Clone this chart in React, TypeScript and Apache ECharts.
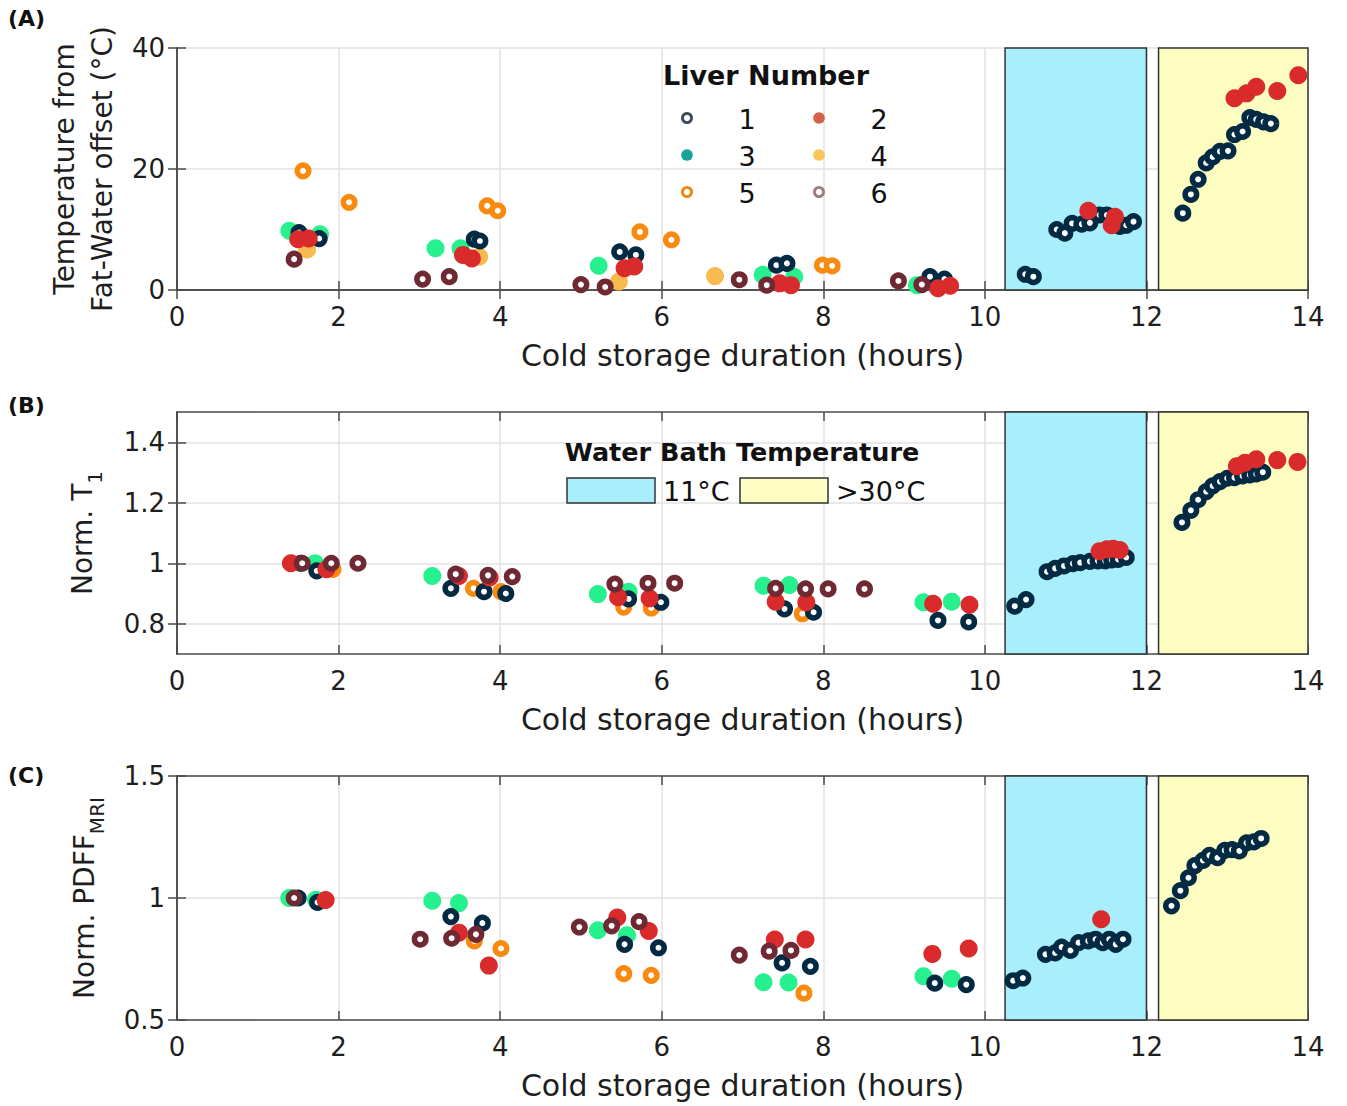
import React, { useEffect, useRef } from 'react';
import * as echarts from 'echarts';

const FONT = 'DejaVu Sans';

// ---- axes ----
const X_MIN = 0;
const X_MAX = 14;
const X_INTERVAL = 2;
const X_TITLE = 'Cold storage duration (hours)';

const A_Y = { min: 0, max: 40, interval: 20 };
const B_Y = { min: 0.7, max: 1.5 };
const B_Y_TICKS = [0.8, 1, 1.2, 1.4];
const C_Y = { min: 0.5, max: 1.5, interval: 0.5 };

// water bath periods (hours)
const BATH_11C = [10.25, 12.0];
const BATH_30C = [12.15, 14];

const LIVER_NAMES = ['1', '2', '3', '4', '5', '6'];
const LIVER_COLORS = ['#022a43', '#d92b2b', '#27f08f', '#f9ba4f', '#f88a10', '#6f2933'];
const LIVER_RING = [true, false, false, false, true, true];
const LEGEND_COLORS = ['#3e4a5a', '#d5614b', '#18a39a', '#f8c65c', '#f0860f', '#9c7c7c'];
const DRAW_ORDER = [2, 3, 4, 0, 1, 5];

// ---- Panel A: temperature from fat-water offset (°C) ----
const A_L1 = [[1.51, 9.5], [1.76, 8.5], [3.68, 8.4], [3.75, 8.1], [5.48, 6.3], [5.68, 5.8], [7.42, 4.1], [7.55, 4.4], [9.32, 2.2], [9.5, 1.8], [10.5, 2.6], [10.6, 2.2], [10.89, 10.0], [10.99, 9.4], [11.08, 11.0], [11.2, 10.9], [11.3, 11.1], [11.42, 12.4], [11.51, 12.4], [11.67, 10.5], [11.75, 10.7], [11.84, 11.3], [12.45, 12.7], [12.55, 15.8], [12.64, 18.3], [12.74, 21.0], [12.82, 22.0], [12.91, 22.9], [13.01, 23.0], [13.09, 25.7], [13.19, 26.2], [13.28, 28.5], [13.36, 28.2], [13.45, 27.8], [13.54, 27.5]];
const A_L2 = [[1.5, 8.4], [1.63, 8.5], [3.54, 5.8], [3.65, 5.2], [5.54, 3.6], [5.66, 3.9], [7.46, 1.1], [7.6, 0.8], [9.42, 0.3], [9.57, 0.7], [11.28, 13.1], [11.61, 12.1], [11.57, 10.7], [13.09, 31.7], [13.24, 32.5], [13.36, 33.6], [13.62, 32.9], [13.88, 35.5]];
const A_L3 = [[1.39, 9.8], [1.77, 9.2], [3.2, 6.9], [3.51, 6.9], [5.22, 4.0], [7.25, 2.5], [7.64, 2.2], [9.16, 0.8]];
const A_L4 = [[1.61, 6.7], [3.74, 5.5], [5.47, 1.4], [6.66, 2.3]];
const A_L5 = [[1.56, 19.7], [2.13, 14.5], [3.84, 13.9], [3.97, 13.1], [5.73, 9.6], [6.12, 8.3], [7.99, 4.1], [8.11, 4.0]];
const A_L6 = [[1.45, 5.1], [3.04, 1.8], [3.37, 2.2], [5.0, 0.9], [5.3, 0.5], [6.96, 1.7], [7.3, 0.8], [8.93, 1.5], [9.22, 0.9]];

// ---- Panel B: normalised T1 ----
const B_L1 = [[1.53, 1.0], [1.73, 0.975], [3.39, 0.917], [3.8, 0.906], [4.07, 0.9], [5.59, 0.882], [5.99, 0.871], [7.52, 0.849], [7.88, 0.838], [9.42, 0.811], [9.8, 0.806], [10.37, 0.858], [10.51, 0.88], [10.77, 0.972], [10.87, 0.983], [10.98, 0.991], [11.09, 0.999], [11.18, 1.002], [11.3, 1.006], [11.4, 1.008], [11.49, 1.008], [11.57, 1.011], [11.65, 1.013], [11.75, 1.019], [12.44, 1.135], [12.55, 1.175], [12.64, 1.21], [12.74, 1.237], [12.82, 1.256], [12.91, 1.27], [13.0, 1.281], [13.09, 1.283], [13.19, 1.289], [13.28, 1.292], [13.36, 1.295], [13.44, 1.301]];
const B_L2 = [[1.41, 1.0], [1.85, 0.98], [3.49, 0.958], [3.87, 0.953], [5.46, 0.888], [5.85, 0.884], [7.41, 0.873], [7.79, 0.871], [9.36, 0.866], [9.81, 0.863], [11.42, 1.04], [11.51, 1.046], [11.59, 1.048], [11.67, 1.044], [13.12, 1.321], [13.22, 1.332], [13.36, 1.344], [13.62, 1.341], [13.87, 1.335]];
const B_L3 = [[1.71, 1.0], [3.16, 0.958], [5.21, 0.898], [5.59, 0.906], [7.26, 0.926], [7.58, 0.928], [9.24, 0.871], [9.59, 0.873]];
const B_L4: number[][] = [];
const B_L5 = [[1.93, 0.98], [3.67, 0.917], [4.01, 0.906], [5.53, 0.855], [5.87, 0.852], [7.74, 0.833]];
const B_L6 = [[1.55, 1.0], [1.91, 1.0], [2.24, 1.0], [3.45, 0.964], [3.85, 0.96], [4.15, 0.956], [5.42, 0.931], [5.83, 0.934], [6.16, 0.934], [7.41, 0.917], [7.78, 0.915], [8.06, 0.915], [8.51, 0.915]];

// ---- Panel C: normalised PDFF (MRI) ----
const C_L1 = [[1.5, 1.0], [1.74, 0.982], [3.39, 0.924], [3.78, 0.897], [5.54, 0.81], [5.96, 0.796], [7.49, 0.734], [7.84, 0.72], [9.38, 0.651], [9.77, 0.645], [10.35, 0.661], [10.47, 0.672], [10.75, 0.769], [10.87, 0.775], [10.95, 0.799], [11.06, 0.785], [11.16, 0.817], [11.28, 0.824], [11.37, 0.831], [11.46, 0.817], [11.54, 0.831], [11.62, 0.81], [11.71, 0.831], [12.31, 0.968], [12.42, 1.03], [12.52, 1.083], [12.6, 1.133], [12.7, 1.154], [12.78, 1.175], [12.88, 1.165], [12.97, 1.195], [13.06, 1.198], [13.15, 1.193], [13.24, 1.226], [13.33, 1.23], [13.42, 1.244]];
const C_L2 = [[1.84, 0.992], [3.49, 0.858], [3.86, 0.723], [5.45, 0.92], [5.84, 0.865], [7.4, 0.83], [7.78, 0.83], [9.35, 0.771], [9.8, 0.793], [11.44, 0.913]];
const C_L3 = [[1.39, 1.0], [1.72, 0.993], [3.16, 0.989], [3.49, 0.979], [5.21, 0.868], [5.57, 0.847], [7.26, 0.655], [7.57, 0.654], [9.24, 0.679], [9.59, 0.669]];
const C_L4: number[][] = [];
const C_L5 = [[3.68, 0.824], [4.01, 0.793], [5.53, 0.69], [5.87, 0.683], [7.76, 0.61]];
const C_L6 = [[1.45, 1.0], [3.01, 0.831], [3.4, 0.835], [3.7, 0.851], [4.98, 0.881], [5.38, 0.886], [5.72, 0.903], [6.96, 0.766], [7.33, 0.782], [7.6, 0.785]];

const PANEL_DATA = [
  [A_L1, A_L2, A_L3, A_L4, A_L5, A_L6],
  [B_L1, B_L2, B_L3, B_L4, B_L5, B_L6],
  [C_L1, C_L2, C_L3, C_L4, C_L5, C_L6],
];

const CYAN = '#a8effb';
const YELLOW = '#fdfdc2';
const AXIS_COLOR = '#4a4a4a';
const TEXT_COLOR = '#1e1e1e';

const GRIDS = [
  { left: 177, top: 48, width: 1131, height: 242 },
  { left: 177, top: 412, width: 1131, height: 242 },
  { left: 177, top: 776, width: 1131, height: 244 },
];

function buildOption() {
  const axisLine = { show: true, lineStyle: { color: AXIS_COLOR, width: 1.5 } };
  const axisTick = { show: true, inside: true, length: 9, lineStyle: { color: AXIS_COLOR, width: 1.5 } };
  const splitLine = { show: true, lineStyle: { color: '#e2e2e2', width: 1.5 } };
  const labelStyle = { fontFamily: FONT, fontSize: 26, color: TEXT_COLOR };

  const xAxis: any[] = [];
  const yAxis: any[] = [];
  GRIDS.forEach((_, g) => {
    xAxis.push({
      gridIndex: g, type: 'value', min: X_MIN, max: X_MAX, interval: X_INTERVAL, position: 'bottom',
      axisLine, axisTick, splitLine,
      axisLabel: { ...labelStyle, margin: 14 },
      name: X_TITLE, nameLocation: 'middle', nameGap: 50,
      nameTextStyle: { fontFamily: FONT, fontSize: 30, color: TEXT_COLOR },
    });
  });
  GRIDS.forEach((_, g) => {
    xAxis.push({
      gridIndex: g, type: 'value', min: X_MIN, max: X_MAX, interval: X_INTERVAL, position: 'top',
      axisLine, axisTick, splitLine: { show: false }, axisLabel: { show: false },
    });
  });

  const yNames = [
    'Temperature from\nFat-Water offset (°C)',
    '{m|Norm. T}{s|1}',
    '{m|Norm. PDFF}{s|MRI}',
  ];
  const yGaps = [54, 72, 70];
  const rich = {
    m: { fontFamily: FONT, fontSize: 28, color: TEXT_COLOR, verticalAlign: 'top', lineHeight: 36 },
    s: { fontFamily: FONT, fontSize: 20, color: TEXT_COLOR, verticalAlign: 'bottom', lineHeight: 37 },
  };
  const yScales: any[] = [
    { ...A_Y },
    { ...B_Y },
    { ...C_Y },
  ];
  GRIDS.forEach((_, g) => {
    const base: any = { gridIndex: g, type: 'value', ...yScales[g] };
    const lbl: any = { ...labelStyle, margin: 12 };
    const tick: any = { ...axisTick };
    if (g === 1) {
      lbl.customValues = B_Y_TICKS;
      tick.customValues = B_Y_TICKS;
    }
    yAxis.push({
      ...base, position: 'left', axisLine, axisTick: tick, splitLine, axisLabel: lbl,
      name: yNames[g], nameLocation: 'middle', nameGap: yGaps[g],
      nameTextStyle: { fontFamily: FONT, fontSize: 28, color: TEXT_COLOR, lineHeight: 38, rich },
    });
  });
  GRIDS.forEach((_, g) => {
    const tick: any = { ...axisTick };
    if (g === 1) tick.customValues = B_Y_TICKS;
    yAxis.push({
      gridIndex: g, type: 'value', ...yScales[g], position: 'right',
      axisLine, axisTick: tick, splitLine: { show: false }, axisLabel: { show: false },
    });
  });

  const series: any[] = [];
  GRIDS.forEach((_, g) => {
    series.push({
      type: 'scatter', xAxisIndex: g, yAxisIndex: g, data: [], silent: true, z: 1,
      markArea: {
        silent: true,
        data: [
          [{ xAxis: BATH_11C[0], itemStyle: { color: CYAN, borderColor: '#333', borderWidth: 1.5 } }, { xAxis: BATH_11C[1] }],
          [{ xAxis: BATH_30C[0], itemStyle: { color: YELLOW, borderColor: '#333', borderWidth: 1.5 } }, { xAxis: BATH_30C[1] }],
        ],
      },
    });
    DRAW_ORDER.forEach((li, k) => {
      const ring = LIVER_RING[li];
      series.push({
        type: 'scatter', name: 'Liver ' + LIVER_NAMES[li], xAxisIndex: g, yAxisIndex: g,
        data: PANEL_DATA[g][li], symbol: 'circle', symbolSize: ring ? 11.5 : 18, z: 3 + k,
        itemStyle: ring
          ? { color: '#ffffff', borderColor: LIVER_COLORS[li], borderWidth: 5.5, opacity: 1 }
          : { color: LIVER_COLORS[li], opacity: 1 },
      });
    });
  });

  const graphic: any[] = [];
  const panelLabels = [['(A)', 20], ['(B)', 407], ['(C)', 777]];
  panelLabels.forEach(([t, y]) => {
    graphic.push({
      type: 'text', left: 8, top: (y as number) - 13,
      style: { text: t, fontFamily: FONT, fontWeight: 'bold', fontSize: 22, fill: '#111' },
    });
  });
  // Liver legend
  graphic.push({
    type: 'text', x: 766, y: 75, z: 50,
    style: { text: 'Liver Number', fontFamily: FONT, fontWeight: 'bold', fontSize: 27, fill: '#111', align: 'center', verticalAlign: 'middle' },
  });
  LIVER_NAMES.forEach((n, i) => {
    const col = i % 2;
    const row = Math.floor(i / 2);
    const cx = 687 + col * 132;
    const cy = 118 + row * 37;
    const ring = LIVER_RING[i];
    graphic.push({
      type: 'circle', z: 50, shape: { cx, cy, r: ring ? 4.6 : 5.8 },
      style: ring ? { fill: '#fff', stroke: LEGEND_COLORS[i], lineWidth: 2.8 } : { fill: LEGEND_COLORS[i] },
    });
    graphic.push({
      type: 'text', z: 50, x: cx + 60, y: cy + 1,
      style: { text: n, fontFamily: FONT, fontSize: 27, fill: '#111', align: 'center', verticalAlign: 'middle' },
    });
  });
  // Water bath legend
  graphic.push({
    type: 'text', x: 742, y: 452, z: 50,
    style: { text: 'Water Bath Temperature', fontFamily: FONT, fontWeight: 'bold', fontSize: 25.5, fill: '#111', align: 'center', verticalAlign: 'middle' },
  });
  graphic.push({ type: 'rect', z: 50, shape: { x: 567, y: 478, width: 88, height: 25 }, style: { fill: CYAN, stroke: '#333', lineWidth: 1.5 } });
  graphic.push({ type: 'text', z: 50, x: 663, y: 491, style: { text: '11°C', fontFamily: FONT, fontSize: 27, fill: '#111', verticalAlign: 'middle' } });
  graphic.push({ type: 'rect', z: 50, shape: { x: 740, y: 478, width: 88, height: 25 }, style: { fill: YELLOW, stroke: '#333', lineWidth: 1.5 } });
  graphic.push({ type: 'text', z: 50, x: 836, y: 491, style: { text: '>30°C', fontFamily: FONT, fontSize: 27, fill: '#111', verticalAlign: 'middle' } });

  return {
    animation: false,
    backgroundColor: '#ffffff',
    textStyle: { fontFamily: FONT },
    grid: GRIDS.map((g) => ({ ...g, containLabel: false })),
    xAxis,
    yAxis,
    series,
    graphic,
  };
}

export default function App() {
  const ref = useRef<HTMLDivElement>(null);
  useEffect(() => {
    document.body.style.margin = '0';
    if (!ref.current) return;
    const chart = echarts.init(ref.current, undefined, { renderer: 'svg' });
    chart.setOption(buildOption() as any);
    return () => chart.dispose();
  }, []);
  return <div ref={ref} style={{ width: 1347, height: 1106 }} />;
}
